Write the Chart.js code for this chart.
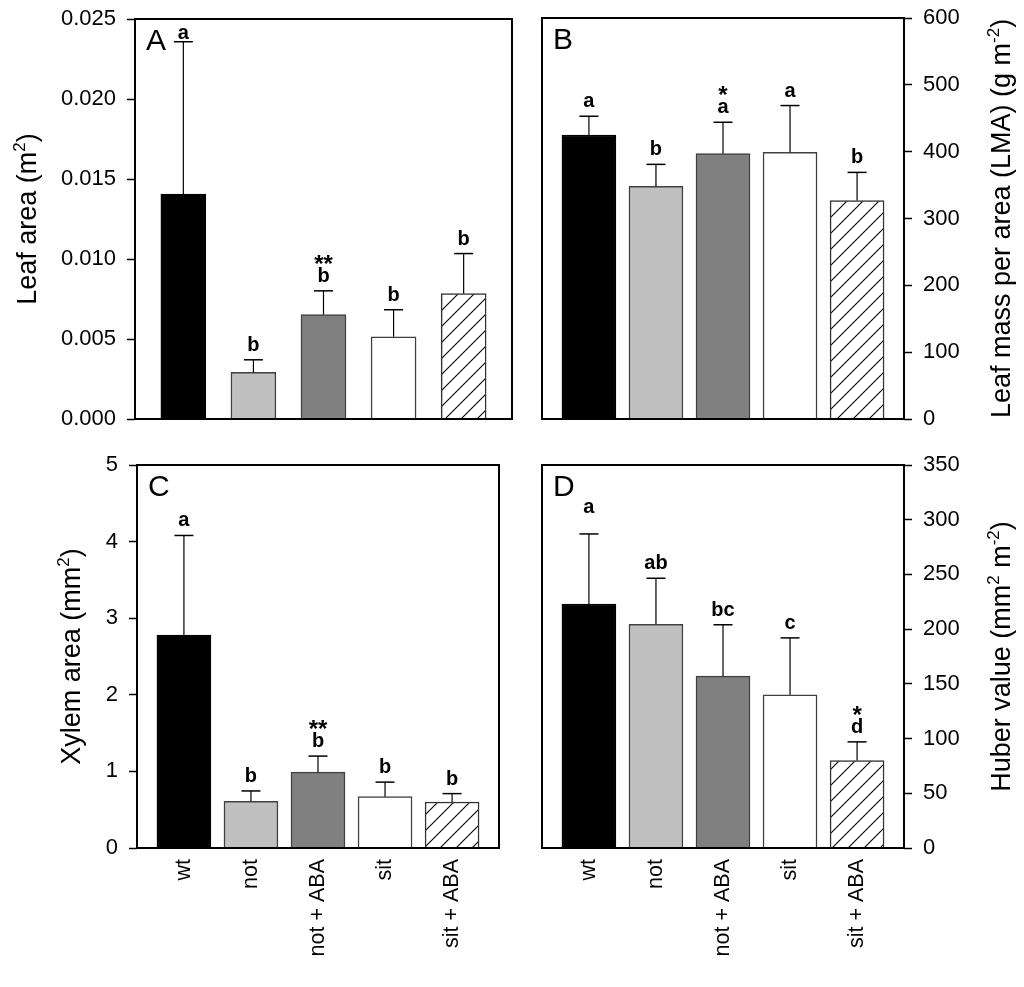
<!DOCTYPE html>
<html>
<head>
<meta charset="utf-8">
<script src="https://cdn.jsdelivr.net/npm/chart.js@4.4.1/dist/chart.umd.min.js"></script>
<style>
  body { margin: 0; background: #fff; }
  #wrap { position: relative; width: 1024px; height: 987px; }
  canvas { position: absolute; }
</style>
</head>
<body>
<div id="wrap">
  <canvas id="cA" width="520" height="440" style="left:0;top:0"></canvas>
  <canvas id="cB" width="504" height="440" style="left:520px;top:0"></canvas>
  <canvas id="cC" width="520" height="547" style="left:0;top:440px"></canvas>
  <canvas id="cD" width="504" height="547" style="left:520px;top:440px"></canvas>
</div>
<script>
// treatments (same order in every panel)
const categories = ["wt", "not", "not + ABA", "sit", "sit + ABA"];

// A - leaf area (m2), mean and SE
const leafArea = [0.01405, 0.00291, 0.00653, 0.00514, 0.00784];
const leafAreaSE = [0.00953, 0.00079, 0.00148, 0.00169, 0.0025];
const leafAreaLetters = ["a", "b", "b", "b", "b"];
const leafAreaStars = ["", "", "**", "", ""];

// B - leaf mass per area (g m-2)
const lma = [425, 348, 397, 399, 327];
const lmaSE = [28, 33, 47, 70, 42];
const lmaLetters = ["a", "b", "a", "a", "b"];
const lmaStars = ["", "", "*", "", ""];

// C - xylem area (mm2)
const xylem = [2.78, 0.61, 0.99, 0.67, 0.6];
const xylemSE = [1.3, 0.135, 0.21, 0.19, 0.11];
const xylemLetters = ["a", "b", "b", "b", "b"];
const xylemStars = ["", "", "**", "", ""];

// D - Huber value (mm2 m-2)
const huber = [223, 204.5, 157, 140, 80];
const huberSE = [64, 42, 47, 52, 17];
const huberLetters = ["a", "ab", "bc", "c", "d"];
const huberStars = ["", "", "", "", "*"];

const FONT = "'Liberation Sans', Arial, sans-serif";

function hatch() {
  const c = document.createElement("canvas");
  c.width = c.height = 16;
  const g = c.getContext("2d");
  g.fillStyle = "#fff";
  g.fillRect(0, 0, 16, 16);
  g.strokeStyle = "#000";
  g.lineWidth = 1.1;
  g.beginPath();
  g.moveTo(0, 16); g.lineTo(16, 0);
  g.moveTo(-4, 4); g.lineTo(4, -4);
  g.moveTo(12, 20); g.lineTo(20, 12);
  g.stroke();
  return g.createPattern(c, "repeat");
}

const fills = ["#000000", "#c0c0c0", "#808080", "#ffffff", hatch()];
const edges = ["#000000", "#404040", "#404040", "#404040", "#333333"];

// panel layout: canvas size and the plot box inside it
const panels = [
  { id: "cA", w: 520, h: 440, box: [135, 19, 512, 419], side: "left", tag: "A",
    values: leafArea, se: leafAreaSE, letters: leafAreaLetters, stars: leafAreaStars,
    yMax: 0.025, yStep: 0.005, dec: 3, xRange: [-0.69, 4.69], barW: 45, showX: false,
    titleX: 36, title: [["Leaf area (m", 0], ["2", 1], [")", 0]], lift: [-6, 0, 0, 0, 0] },
  { id: "cB", w: 504, h: 440, box: [22, 18, 384, 419], side: "right", tag: "B",
    values: lma, se: lmaSE, letters: lmaLetters, stars: lmaStars,
    yMax: 600, yStep: 100, dec: 0, xRange: [-0.7, 4.7], barW: 54, showX: false,
    titleX: 490, title: [["Leaf mass per area (LMA) (g m", 0], ["-2", 1], [")", 0]], lift: [0, 0, 0, 0, 0] },
  { id: "cC", w: 520, h: 547, box: [137, 25, 499, 408], side: "left", tag: "C",
    values: xylem, se: xylemSE, letters: xylemLetters, stars: xylemStars,
    yMax: 5, yStep: 1, dec: 0, xRange: [-0.7, 4.7], barW: 54, showX: true,
    titleX: 80, title: [["Xylem area (mm", 0], ["2", 1], [")", 0]], lift: [0, 0, 0, 0, 0] },
  { id: "cD", w: 504, h: 547, box: [22, 25, 384, 408], side: "right", tag: "D",
    values: huber, se: huberSE, letters: huberLetters, stars: huberStars,
    yMax: 350, yStep: 50, dec: 0, xRange: [-0.7, 4.7], barW: 54, showX: true,
    titleX: 490, title: [["Huber value (mm", 0], ["2", 1], [" m", 0], ["-2", 1], [")", 0]], lift: [12, 0, 0, 0, 0] }
];

// error bars, letters, frame, panel tag and axis title
const decorations = {
  id: "decorations",
  afterDatasetsDraw(chart, args, p) {
    const ctx = chart.ctx;
    const y = chart.scales.y;
    const area = chart.chartArea;
    const bars = chart.getDatasetMeta(0).data;
    ctx.save();
    ctx.strokeStyle = "#000";
    bars.forEach((bar, i) => {
      const top = y.getPixelForValue(p.values[i] + p.se[i]);
      ctx.lineWidth = 1.2;
      ctx.beginPath();
      ctx.moveTo(bar.x, bar.y);
      ctx.lineTo(bar.x, top);
      ctx.stroke();
      ctx.lineWidth = 1.5;
      ctx.beginPath();
      ctx.moveTo(bar.x - 9.5, top);
      ctx.lineTo(bar.x + 9.5, top);
      ctx.stroke();

      const base = Math.max(top - 9 - p.lift[i], area.top + 20);
      ctx.fillStyle = "#000";
      ctx.textAlign = "center";
      ctx.textBaseline = "alphabetic";
      ctx.font = "bold 20px " + FONT;
      ctx.fillText(p.letters[i], bar.x, base);
      if (p.stars[i]) {
        ctx.font = "bold 24px " + FONT;
        ctx.fillText(p.stars[i], bar.x, base - 10);
      }
    });

    // frame
    ctx.lineWidth = 2;
    ctx.strokeRect(area.left, area.top, area.right - area.left, area.bottom - area.top);

    // panel tag
    ctx.font = "30px " + FONT;
    ctx.textAlign = "left";
    ctx.fillText(p.tag, area.left + 11, area.top + 31);

    // rotated axis title with superscripts
    const big = "27px " + FONT, small = "17px " + FONT;
    let total = 0;
    p.title.forEach(([s, sup]) => {
      ctx.font = sup ? small : big;
      total += ctx.measureText(s).width;
    });
    ctx.translate(p.titleX, (area.top + area.bottom) / 2);
    ctx.rotate(-Math.PI / 2);
    let x = -total / 2;
    p.title.forEach(([s, sup]) => {
      ctx.font = sup ? small : big;
      ctx.fillText(s, x, sup ? -11 : 0);
      x += ctx.measureText(s).width;
    });
    ctx.restore();
  }
};

function noPad(axis) {
  axis.paddingTop = 0;
  axis.paddingBottom = 0;
  axis.paddingLeft = 0;
  axis.paddingRight = 0;
}

panels.forEach(p => {
  const [l, t, r, b] = p.box;
  const left = p.side === "left";
  new Chart(document.getElementById(p.id), {
    type: "bar",
    data: {
      datasets: [{
        data: categories.map((c, i) => ({ x: i, y: p.values[i] })),
        backgroundColor: fills,
        borderColor: edges,
        borderWidth: 1.5,
        barThickness: p.barW
      }]
    },
    options: {
      responsive: false,
      animation: false,
      events: [],
      layout: { padding: { left: left ? 0 : l, right: left ? p.w - r : 0, top: t, bottom: 0 } },
      plugins: { legend: { display: false }, tooltip: { enabled: false }, decorations: p },
      scales: {
        x: {
          type: "linear",
          min: p.xRange[0],
          max: p.xRange[1],
          offset: false,
          grid: { display: false, drawTicks: false },
          border: { display: false },
          afterBuildTicks: axis => { axis.ticks = categories.map((c, i) => ({ value: i })); },
          afterFit: axis => { axis.height = p.h - b; noPad(axis); },
          ticks: {
            display: p.showX,
            autoSkip: false,
            minRotation: 90,
            maxRotation: 90,
            padding: 11,
            color: "#000",
            font: { family: FONT, size: 21.5 },
            callback: v => categories[v] || ""
          }
        },
        y: {
          position: p.side,
          min: 0,
          max: p.yMax,
          border: { display: false },
          grid: { drawOnChartArea: false, drawTicks: true, tickLength: 8, tickWidth: 1.5, tickColor: "#000" },
          afterFit: axis => { axis.width = left ? l : p.w - r; noPad(axis); },
          ticks: {
            stepSize: p.yStep,
            padding: 11,
            color: "#000",
            font: { family: FONT, size: 22 },
            callback: v => v.toFixed(p.dec)
          }
        }
      }
    },
    plugins: [decorations]
  });
});
</script>
</body>
</html>
